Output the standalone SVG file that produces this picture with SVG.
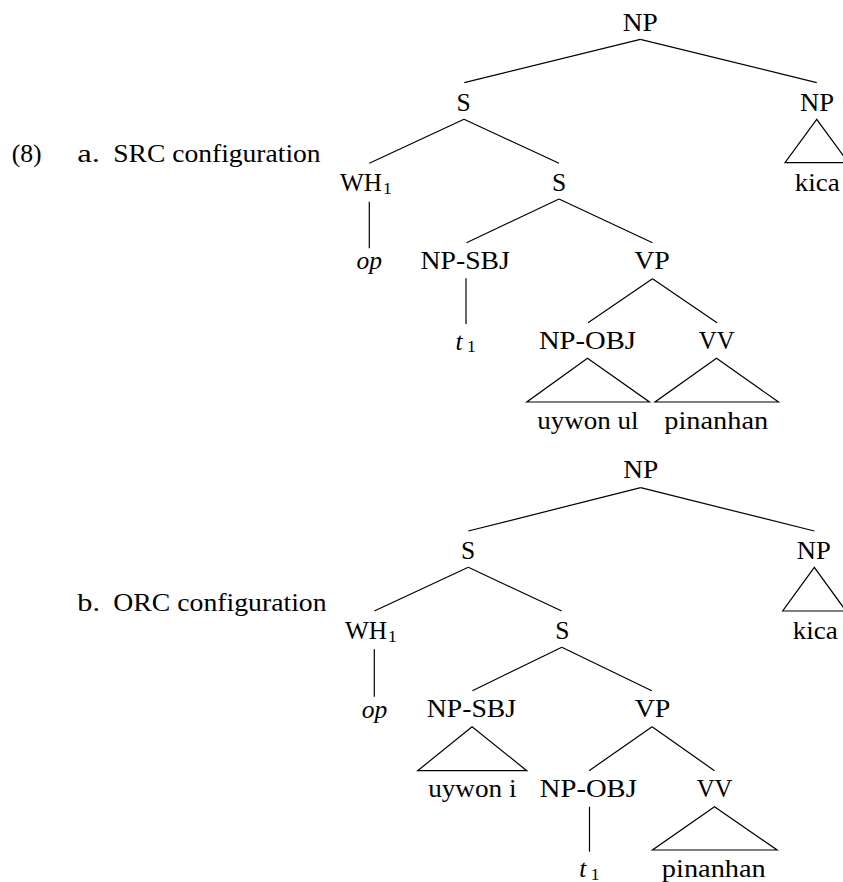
<svg xmlns="http://www.w3.org/2000/svg" width="843" height="882" viewBox="0 0 843 882">
<style>
text{font-family:"Liberation Serif","Times New Roman",serif;font-size:25.5px;fill:#000}
.m{text-anchor:middle}
.i{font-style:italic}
.sub{font-size:17.5px}
.e line,.e polygon{stroke:#000;stroke-width:1.2;fill:none}
</style>
<rect width="843" height="882" fill="#fff"/>
<g id="labels">
<text x="11.7" y="162" textLength="30" lengthAdjust="spacingAndGlyphs">(8)</text>
<text x="77.3" y="162" textLength="22.7" lengthAdjust="spacingAndGlyphs">a.</text>
<text x="113.3" y="162" textLength="207.3" lengthAdjust="spacingAndGlyphs">SRC configuration</text>
<text x="77.3" y="610.5" textLength="22.7" lengthAdjust="spacingAndGlyphs">b.</text>
<text x="113.3" y="610.5" textLength="213.3" lengthAdjust="spacingAndGlyphs">ORC configuration</text>
</g>
<g id="connectors" class="e">
<line x1="640.3" y1="39.3" x2="464.3" y2="82.7"/>
<line x1="640.3" y1="39.3" x2="816.7" y2="82.7"/>
<line x1="464" y1="119.3" x2="369.3" y2="163.3"/>
<line x1="464" y1="119.3" x2="559" y2="163.3"/>
<polygon points="816.7,119.3 785,162.7 848.4,162.7"/>
<line x1="369.3" y1="201.7" x2="369.3" y2="248.3"/>
<line x1="559" y1="199" x2="466.5" y2="242.7"/>
<line x1="559" y1="199" x2="652.5" y2="242.7"/>
<line x1="466" y1="278.3" x2="466" y2="324"/>
<line x1="652.5" y1="278.7" x2="588" y2="322.7"/>
<line x1="652.5" y1="278.7" x2="717" y2="322.7"/>
<polygon points="587.5,358.3 526.8,402 649.5,402"/>
<polygon points="716.5,358.3 655,402 778.5,402"/>
<line x1="640.7" y1="487.7" x2="468.3" y2="531"/>
<line x1="640.7" y1="487.7" x2="814.3" y2="531"/>
<line x1="468.3" y1="567.3" x2="374.3" y2="611"/>
<line x1="468.3" y1="567.3" x2="561.7" y2="611"/>
<polygon points="814.3,567.3 782.7,611 846,611"/>
<line x1="374.3" y1="649.3" x2="374.3" y2="696.7"/>
<line x1="561.8" y1="647.3" x2="472.4" y2="690.7"/>
<line x1="561.8" y1="647.3" x2="651.8" y2="690.7"/>
<polygon points="472.1,726.7 417.7,770.7 526.8,770.7"/>
<line x1="652.1" y1="726.7" x2="589.1" y2="770.7"/>
<line x1="652.1" y1="726.7" x2="714.5" y2="770.7"/>
<line x1="589.5" y1="806.7" x2="589.5" y2="851.7"/>
<polygon points="714.5,806.7 652.5,850 777.1,850"/>
</g>
<g id="treeA">
<g id="a-np"><text class="m" x="640.3" y="30.7" textLength="35" lengthAdjust="spacingAndGlyphs">NP</text></g>
<g id="a-s1"><text class="m" x="463.7" y="110.7">S</text></g>
<g id="a-np2"><text class="m" x="817" y="110.7" textLength="34" lengthAdjust="spacingAndGlyphs">NP</text></g>
<g id="a-wh"><text x="340" y="191" textLength="42" lengthAdjust="spacingAndGlyphs">WH</text><text class="sub" x="383" y="193.5">1</text></g>
<g id="a-s2"><text class="m" x="559" y="191">S</text></g>
<g id="a-kica"><text class="m" x="817.3" y="191" textLength="45" lengthAdjust="spacingAndGlyphs">kica</text></g>
<g id="a-op"><text class="m i" x="369.3" y="268.5">op</text></g>
<g id="a-npsbj"><text class="m" x="465.2" y="269.3" textLength="89.3" lengthAdjust="spacingAndGlyphs">NP-SBJ</text></g>
<g id="a-vp"><text class="m" x="652" y="269.3" textLength="35.7" lengthAdjust="spacingAndGlyphs">VP</text></g>
<g id="a-t"><text class="i" x="455.5" y="349.5">t</text><text class="sub" x="467" y="352.3">1</text></g>
<g id="a-npobj"><text class="m" x="587.4" y="349.3" textLength="97" lengthAdjust="spacingAndGlyphs">NP-OBJ</text></g>
<g id="a-vv"><text class="m" x="716.7" y="349.3" textLength="35.7" lengthAdjust="spacingAndGlyphs">VV</text></g>
<g id="a-uywon"><text class="m" x="587.9" y="429.3" textLength="101.5" lengthAdjust="spacingAndGlyphs">uywon ul</text></g>
<g id="a-pinanhan"><text class="m" x="716.2" y="429.3" textLength="103.9" lengthAdjust="spacingAndGlyphs">pinanhan</text></g>
</g>
<g id="treeB">
<g id="b-np"><text class="m" x="640.8" y="478.3" textLength="35" lengthAdjust="spacingAndGlyphs">NP</text></g>
<g id="b-s1"><text class="m" x="468" y="559">S</text></g>
<g id="b-np2"><text class="m" x="813.8" y="559" textLength="34" lengthAdjust="spacingAndGlyphs">NP</text></g>
<g id="b-wh"><text x="345" y="639" textLength="42" lengthAdjust="spacingAndGlyphs">WH</text><text class="sub" x="388" y="641.5">1</text></g>
<g id="b-s2"><text class="m" x="562.3" y="639">S</text></g>
<g id="b-kica"><text class="m" x="815.2" y="639" textLength="45" lengthAdjust="spacingAndGlyphs">kica</text></g>
<g id="b-op"><text class="m i" x="374.4" y="718.3">op</text></g>
<g id="b-npsbj"><text class="m" x="471.4" y="717.3" textLength="89.3" lengthAdjust="spacingAndGlyphs">NP-SBJ</text></g>
<g id="b-vp"><text class="m" x="652.5" y="717.3" textLength="35.7" lengthAdjust="spacingAndGlyphs">VP</text></g>
<g id="b-uywon"><text class="m" x="472.3" y="797.3" textLength="88.3" lengthAdjust="spacingAndGlyphs">uywon i</text></g>
<g id="b-npobj"><text class="m" x="588.3" y="796.7" textLength="97" lengthAdjust="spacingAndGlyphs">NP-OBJ</text></g>
<g id="b-vv"><text class="m" x="714.6" y="796.7" textLength="35.7" lengthAdjust="spacingAndGlyphs">VV</text></g>
<g id="b-t"><text class="i" x="579.3" y="876.7">t</text><text class="sub" x="590.8" y="879.5">1</text></g>
<g id="b-pinanhan"><text class="m" x="713.8" y="876.7" textLength="103.9" lengthAdjust="spacingAndGlyphs">pinanhan</text></g>
</g>
</svg>
